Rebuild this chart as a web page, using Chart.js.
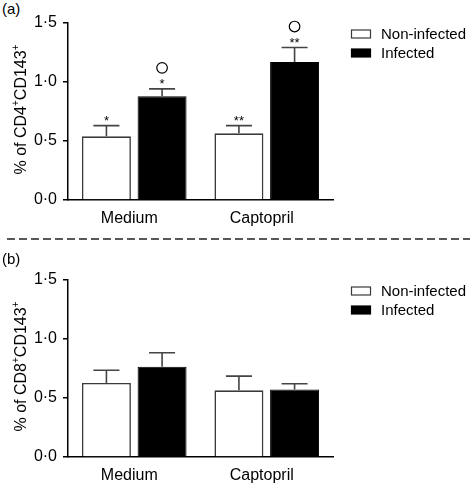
<!DOCTYPE html>
<html>
<head>
<meta charset="utf-8">
<script src="https://cdn.jsdelivr.net/npm/chart.js@4.4.1/dist/chart.umd.min.js"></script>
<style>
  body { margin: 0; background: #fff; width: 475px; height: 485px; position: relative; overflow: hidden;
         font-family: "Liberation Sans", Arial, sans-serif; }
  .panel { position: absolute; left: 0; width: 475px; height: 235px; }
  .tag { position: absolute; left: 2px; font-size: 15px; color: #000; }
  #divider { position: absolute; left: 0; top: 232px; }
</style>
</head>
<body>
<div class="tag" style="top:0px">(a)</div>
<div class="panel" style="top:0px"><canvas id="chartA" width="475" height="235"></canvas></div>
<svg id="divider" width="475" height="14"><line x1="7" y1="7" x2="470" y2="7" stroke="#222" stroke-width="1.3" stroke-dasharray="8 4"/></svg>
<div class="tag" style="top:250px">(b)</div>
<div class="panel" style="top:257px"><canvas id="chartB" width="475" height="235"></canvas></div>

<script>
/* ---------- DATA ---------- */
const categories  = ['Medium', 'Captopril'];
const seriesNames = ['Non-infected', 'Infected'];
const yTicks      = [0, 0.5, 1.0, 1.5];

/* (a) CD4+CD143+ */
const cd4NonInfected    = [0.54, 0.565];
const cd4NonInfectedErr = [0.09, 0.065];
const cd4Infected       = [0.88, 1.17];
const cd4InfectedErr    = [0.062, 0.122];
const cd4NonInfStars    = ['*', '**'];
const cd4InfStars       = ['*', '**'];
const cd4InfCircle      = [true, true];

/* (b) CD8+CD143+ */
const cd8NonInfected    = [0.628, 0.565];
const cd8NonInfectedErr = [0.107, 0.12];
const cd8Infected       = [0.765, 0.571];
const cd8InfectedErr    = [0.118, 0.05];

/* ---------- HELPERS ---------- */
Chart.defaults.font.family = '"Liberation Sans", Arial, sans-serif';
Chart.defaults.color = '#000';

const fmt = v => Number(v).toFixed(1).replace('.', '\u00b7');

/* error bars + significance marks */
const errorPlugin = {
  id: 'errorPlugin',
  afterDatasetsDraw(chart) {
    const ctx = chart.ctx;
    const y = chart.scales.y;
    chart.data.datasets.forEach((ds, i) => {
      const meta = chart.getDatasetMeta(i);
      meta.data.forEach((bar, j) => {
        const top = y.getPixelForValue(ds.data[j] + ds.errors[j]);
        ctx.save();
        ctx.strokeStyle = '#444';
        ctx.lineWidth = 1.6;
        ctx.beginPath();
        ctx.moveTo(bar.x, bar.y);
        ctx.lineTo(bar.x, top);
        ctx.moveTo(bar.x - 13, top);
        ctx.lineTo(bar.x + 13, top);
        ctx.stroke();
        if (ds.stars && ds.stars[j]) {
          ctx.fillStyle = '#000';
          ctx.font = '13px "Liberation Sans", Arial, sans-serif';
          ctx.textAlign = 'center';
          ctx.textBaseline = 'middle';
          ctx.fillText(ds.stars[j], bar.x, top - 4);
        }
        if (ds.circles && ds.circles[j]) {
          ctx.strokeStyle = '#000';
          ctx.lineWidth = 1.2;
          ctx.beginPath();
          ctx.arc(bar.x, top - 21, 5.3, 0, Math.PI * 2);
          ctx.stroke();
        }
        ctx.restore();
      });
    });
  }
};

/* legend + rotated axis title with superscripts */
const decorPlugin = {
  id: 'decorPlugin',
  afterDraw(chart, args, opts) {
    const ctx = chart.ctx;
    const area = chart.chartArea;
    ctx.save();
    // legend
    chart.data.datasets.forEach((ds, i) => {
      const cy = 34 + i * 19;
      ctx.fillStyle = ds.backgroundColor;
      ctx.strokeStyle = ds.borderColor;
      ctx.lineWidth = 1.2;
      ctx.fillRect(351.5, cy - 4, 19, 8);
      ctx.strokeRect(351.5, cy - 4, 19, 8);
      ctx.fillStyle = '#000';
      ctx.font = '15px "Liberation Sans", Arial, sans-serif';
      ctx.textAlign = 'left';
      ctx.textBaseline = 'middle';
      ctx.fillText(ds.label, 381, cy + 1);
    });
    // y title
    const parts = opts.title;
    const big = '16px "Liberation Sans", Arial, sans-serif';
    const small = '10px "Liberation Sans", Arial, sans-serif';
    let total = 0;
    parts.forEach(p => { ctx.font = p.sup ? small : big; total += ctx.measureText(p.t).width; });
    ctx.translate(26, (area.top + area.bottom) / 2 - 2);
    ctx.rotate(-Math.PI / 2);
    ctx.textAlign = 'left';
    ctx.textBaseline = 'alphabetic';
    ctx.fillStyle = '#000';
    let x = -total / 2;
    parts.forEach(p => {
      ctx.font = p.sup ? small : big;
      ctx.fillText(p.t, x, p.sup ? -7 : 0);
      x += ctx.measureText(p.t).width;
    });
    ctx.restore();
  }
};

function makeChart(id, nonInf, nonInfErr, inf, infErr, nonStars, infStars, infCircles, title) {
  return new Chart(document.getElementById(id), {
    type: 'bar',
    data: {
      labels: categories,
      datasets: [
        { label: seriesNames[0], data: nonInf, errors: nonInfErr, stars: nonStars,
          backgroundColor: '#ffffff', borderColor: '#3a3a3a', borderWidth: 1.6 },
        { label: seriesNames[1], data: inf, errors: infErr, stars: infStars, circles: infCircles,
          backgroundColor: '#000000', borderColor: '#000000', borderWidth: 1 }
      ]
    },
    options: {
      responsive: false,
      animation: false,
      datasets: { bar: { categoryPercentage: 0.84, barPercentage: 0.88 } },
      layout: { padding: { top: 23, right: 142, left: 0, bottom: 0 } },
      plugins: { legend: { display: false }, tooltip: { enabled: false }, decorPlugin: { title } },
      scales: {
        x: {
          grid: { display: false, drawTicks: false },
          border: { display: true, color: '#000', width: 1.5 },
          ticks: { font: { size: 16 }, padding: 9, labelOffset: -5 },
          afterFit(s) { s.height = 35; }
        },
        y: {
          min: 0, max: 1.5,
          afterBuildTicks(s) { s.ticks = yTicks.map(v => ({ value: v })); },
          grid: { drawOnChartArea: false, drawTicks: true, tickLength: 5, color: '#000', lineWidth: 1.5 },
          border: { display: true, color: '#000', width: 1.5 },
          ticks: { font: { size: 16 }, padding: 6, callback: fmt },
          afterFit(s) { s.width = 68; }
        }
      }
    },
    plugins: [errorPlugin, decorPlugin]
  });
}

makeChart('chartA', cd4NonInfected, cd4NonInfectedErr, cd4Infected, cd4InfectedErr,
  cd4NonInfStars, cd4InfStars, cd4InfCircle,
  [{ t: '% of CD4' }, { t: '+', sup: true }, { t: 'CD143' }, { t: '+', sup: true }]);

makeChart('chartB', cd8NonInfected, cd8NonInfectedErr, cd8Infected, cd8InfectedErr,
  null, null, null,
  [{ t: '% of CD8' }, { t: '+', sup: true }, { t: 'CD143' }, { t: '+', sup: true }]);
</script>
</body>
</html>
